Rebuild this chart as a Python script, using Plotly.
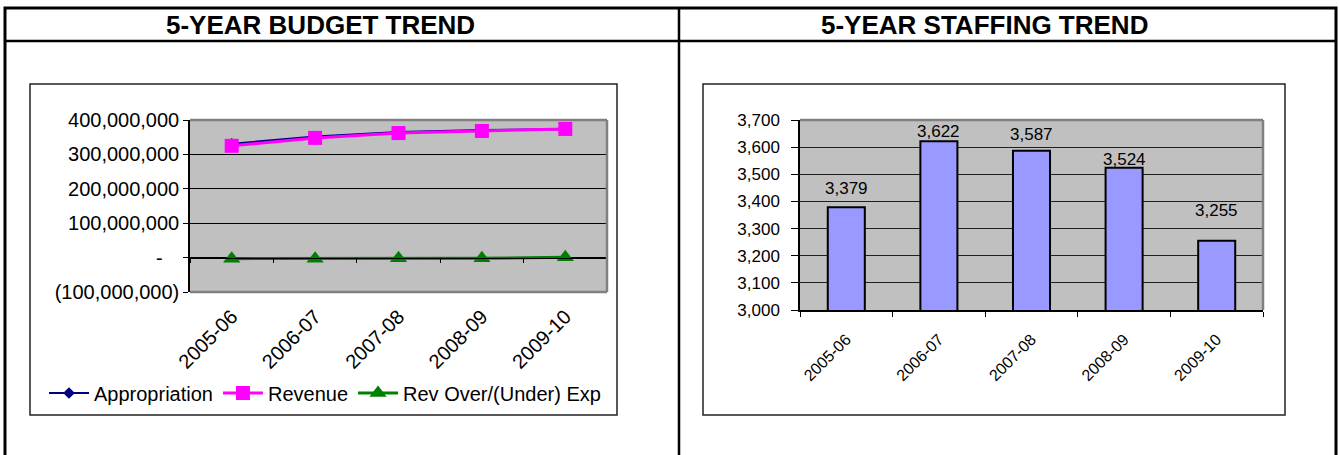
import plotly.graph_objects as go

# ---------------- data ----------------
years = ["2005-06", "2006-07", "2007-08", "2008-09", "2009-10"]
appropriation = [331e6, 352e6, 365e6, 371e6, 373e6]
revenue = [325e6, 348e6, 362e6, 368e6, 374e6]
rev_over_under = [-3e6, -3e6, -2e6, -2e6, 1e6]
staffing = [3379, 3622, 3587, 3524, 3255]

budget_tickvals = [-100e6, 0, 100e6, 200e6, 300e6, 400e6]
budget_ticktext = ["(100,000,000)", "-\u00a0\u00a0\u00a0", "100,000,000", "200,000,000",
                   "300,000,000", "400,000,000"]
staff_tickvals = [3000, 3100, 3200, 3300, 3400, 3500, 3600, 3700]

# style: vertical lift (px) of each bar value label above its bar top
label_lift = [19, 10, 16, 8, 30]

# ---------------- layout helpers ----------------
W, H = 1340, 455
FONT = "Liberation Sans, Arial, sans-serif"


def px(x):
    return x / W


def py(y):
    return 1 - y / H


left_y_dom = [py(292), py(120)]
right_y_dom = [py(310), py(120)]
bud_min, bud_max = -100e6, 400e6
zero_pos = left_y_dom[0] + (0 - bud_min) / (bud_max - bud_min) * (left_y_dom[1] - left_y_dom[0])

fig = go.Figure()

fig.add_trace(go.Scatter(
    x=years, y=appropriation, name="Appropriation", mode="lines+markers",
    line=dict(color="#000080", width=2),
    marker=dict(symbol="diamond", size=9, color="#000080"),
    xaxis="x", yaxis="y"))
fig.add_trace(go.Scatter(
    x=years, y=revenue, name="Revenue", mode="lines+markers",
    line=dict(color="#FF00FF", width=3),
    marker=dict(symbol="square", size=14, color="#FF00FF"),
    xaxis="x", yaxis="y"))
fig.add_trace(go.Scatter(
    x=years, y=rev_over_under, name="Rev Over/(Under) Exp", mode="lines+markers",
    line=dict(color="#008000", width=3),
    marker=dict(symbol="triangle-up", size=15, color="#008000"),
    xaxis="x", yaxis="y"))
# transparent carrier for the zero-line category axis (tick marks on the zero line)
fig.add_trace(go.Scatter(
    x=years, y=rev_over_under, mode="lines", line=dict(width=0, color="rgba(0,0,0,0)"),
    hoverinfo="skip", showlegend=False, xaxis="x3", yaxis="y"))

fig.add_trace(go.Bar(
    x=years, y=staffing, width=0.4, showlegend=False,
    marker=dict(color="#9999FF", line=dict(color="black", width=2)),
    xaxis="x2", yaxis="y2"))

left_font = dict(family=FONT, size=20, color="black")
right_tick_font = dict(family=FONT, size=17, color="black")
right_x_font = dict(family=FONT, size=16, color="black")

fig.update_layout(
    width=W, height=H,
    margin=dict(l=0, r=0, t=0, b=0, pad=0, autoexpand=False),
    paper_bgcolor="white",
    plot_bgcolor="#C0C0C0",
    font=dict(family=FONT, size=16, color="black"),
    xaxis=dict(domain=[px(190), px(607)], anchor="y", type="category",
               categoryarray=years, range=[-0.5, 4.5], showgrid=False,
               ticks="", tickangle=-45, tickfont=left_font, showline=False,
               zeroline=False, ticklabelstandoff=8, automargin=False),
    xaxis3=dict(overlaying="x", anchor="free", position=zero_pos, type="category",
                categoryarray=years, range=[-0.5, 4.5], tickson="boundaries",
                ticks="outside", ticklen=4, tickcolor="black", tickwidth=1,
                showticklabels=False, showline=True, linecolor="black", linewidth=1,
                showgrid=False, zeroline=False, automargin=False),
    yaxis=dict(domain=left_y_dom, anchor="x", range=[bud_min, bud_max],
               tickvals=budget_tickvals, ticktext=budget_ticktext, tickfont=left_font,
               showgrid=True, gridcolor="black", gridwidth=1,
               showline=True, linecolor="black", linewidth=1.5,
               ticks="outside", ticklen=5, tickcolor="black", zeroline=False,
               automargin=False),
    xaxis2=dict(domain=[px(800), px(1263)], anchor="y2", type="category",
                categoryarray=years, range=[-0.5, 4.5], tickson="boundaries",
                ticks="outside", ticklen=5, tickcolor="black", showgrid=False,
                tickangle=-45, tickfont=right_x_font, showline=True, linecolor="black",
                linewidth=1.5, zeroline=False, ticklabelstandoff=12, automargin=False),
    yaxis2=dict(domain=right_y_dom, anchor="x2", range=[3000, 3700],
                tickvals=staff_tickvals, tickformat=",", tickfont=right_tick_font,
                showgrid=True, gridcolor="#202020", gridwidth=1,
                showline=True, linecolor="black", linewidth=1.5,
                ticks="outside", ticklen=7, tickcolor="black", zeroline=False,
                ticklabelstandoff=8, automargin=False),
    legend=dict(orientation="h", x=px(44), xanchor="left", y=py(393), yanchor="middle",
                font=left_font, bgcolor="rgba(0,0,0,0)", tracegroupgap=0,
                itemwidth=40),
    showlegend=True,
    bargap=0.6,
)

# bar value labels
for cat, val, lift in zip(years, staffing, label_lift):
    fig.add_annotation(x=cat, y=val, xref="x2", yref="y2", text=f"{val:,}",
                       showarrow=False, yanchor="middle", yshift=lift,
                       font=dict(family=FONT, size=17, color="black"))

# panel titles
fig.add_annotation(x=px(320), y=py(25), xref="paper", yref="paper",
                   text="<b>5-YEAR BUDGET TREND</b>", showarrow=False,
                   xanchor="center", yanchor="middle",
                   font=dict(family=FONT, size=26, color="black"))
fig.add_annotation(x=px(985), y=py(25), xref="paper", yref="paper",
                   text="<b>5-YEAR STAFFING TREND</b>", showarrow=False,
                   xanchor="center", yanchor="middle",
                   font=dict(family=FONT, size=26, color="black"))

shapes = []
# outer table
shapes.append(dict(type="rect", xref="paper", yref="paper", x0=px(5), x1=px(1336),
                   y0=-0.05, y1=py(8), line=dict(color="black", width=3)))
shapes.append(dict(type="line", xref="paper", yref="paper", x0=px(5), x1=px(1336),
                   y0=py(41), y1=py(41), line=dict(color="black", width=2.5)))
shapes.append(dict(type="line", xref="paper", yref="paper", x0=px(679), x1=px(679),
                   y0=-0.05, y1=py(8), line=dict(color="black", width=2.5)))
# chart boxes
shapes.append(dict(type="rect", xref="paper", yref="paper", x0=px(30), x1=px(617),
                   y0=py(415), y1=py(84), line=dict(color="#222222", width=1.5)))
shapes.append(dict(type="rect", xref="paper", yref="paper", x0=px(703), x1=px(1285),
                   y0=py(415), y1=py(84), line=dict(color="#222222", width=1.5)))
# gray plot-area frames
gray = dict(color="#808080", width=2.5)
for xr, yr, sides in (("x domain", "y domain", ("top", "right", "bottom")),
                      ("x2 domain", "y2 domain", ("top", "right"))):
    if "top" in sides:
        shapes.append(dict(type="line", xref=xr, yref=yr, x0=0, x1=1, y0=1, y1=1, line=gray))
    if "right" in sides:
        shapes.append(dict(type="line", xref=xr, yref=yr, x0=1, x1=1, y0=0, y1=1, line=gray))
    if "bottom" in sides:
        shapes.append(dict(type="line", xref=xr, yref=yr, x0=0, x1=1, y0=0, y1=0, line=gray))
fig.update_layout(shapes=shapes)

fig.write_html("out.html")
